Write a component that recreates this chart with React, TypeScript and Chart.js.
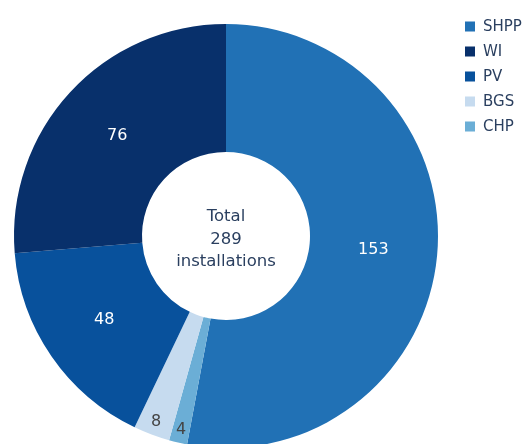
import React, { useEffect, useRef } from "react";
import { Chart, registerables } from "chart.js";

Chart.register(...registerables);

// Slices in drawing order (clockwise from 12 o'clock)
const categories = ["SHPP", "CHP", "BGS", "PV", "WI"];
const values = [153, 4, 8, 48, 76];
const colors = ["#2171b5", "#6baed6", "#c6dbef", "#08519c", "#08306b"];
const labelColors = ["#ffffff", "#444444", "#444444", "#ffffff", "#ffffff"];
// Legend order
const legendOrder = ["SHPP", "WI", "PV", "BGS", "CHP"];
const centerWords = ["Total", "installations"];

const FONT = '"DejaVu Sans", Verdana, sans-serif';
const TEXT = "#2a3f5f";

export default function App() {
  const ref = useRef<HTMLCanvasElement | null>(null);

  useEffect(() => {
    const canvas = ref.current;
    if (!canvas) return;
    const total = values.reduce((a, b) => a + b, 0);

    const sliceLabels = {
      id: "sliceLabels",
      afterDatasetsDraw(chart: any) {
        const ctx = chart.ctx;
        const meta = chart.getDatasetMeta(0);
        ctx.save();
        ctx.font = `16px ${FONT}`;
        ctx.textAlign = "center";
        ctx.textBaseline = "middle";
        meta.data.forEach((arc: any, i: number) => {
          const p = arc.getProps(["x", "y", "startAngle", "endAngle", "innerRadius", "outerRadius"], true);
          const mid = (p.startAngle + p.endAngle) / 2;
          const span = p.endAngle - p.startAngle;
          const r = span < 0.3 ? p.outerRadius - 13 : (p.innerRadius + p.outerRadius) / 2;
          ctx.fillStyle = labelColors[i];
          ctx.fillText(String(chart.data.datasets[0].data[i]), p.x + r * Math.cos(mid), p.y + r * Math.sin(mid));
        });
        // center text
        const a0 = meta.data[0];
        const cx = a0.x, cy = a0.y;
        ctx.fillStyle = TEXT;
        ctx.font = `16.5px ${FONT}`;
        ctx.textBaseline = "alphabetic";
        ctx.fillText(centerWords[0], cx, cy - 15);
        ctx.fillText(String(total), cx, cy + 7.5);
        ctx.fillText(centerWords[1], cx, cy + 30);
        // legend
        ctx.font = `15px ${FONT}`;
        ctx.textAlign = "left";
        ctx.textBaseline = "middle";
        legendOrder.forEach((name, k) => {
          const idx = categories.indexOf(name);
          const y = 26.5 + k * 25;
          ctx.fillStyle = colors[idx];
          ctx.fillRect(465, y - 5, 10, 10);
          ctx.fillStyle = TEXT;
          ctx.fillText(name, 483, y + 0.5);
        });
        ctx.restore();
      },
    };

    const chart = new Chart(canvas, {
      type: "doughnut",
      data: {
        labels: categories,
        datasets: [
          {
            data: values,
            backgroundColor: colors,
            borderWidth: 0,
          },
        ],
      },
      options: {
        animation: false,
        responsive: false,
        maintainAspectRatio: false,
        cutout: 84,
        rotation: 0,
        layout: { padding: { left: 14, right: 93, top: 24, bottom: 12 } },
        plugins: {
          legend: { display: false },
          tooltip: { enabled: false },
        },
      },
      plugins: [sliceLabels],
    });
    return () => chart.destroy();
  }, []);

  return (
    <div
      style={{
        position: "fixed",
        left: 0,
        top: 0,
        width: 531,
        height: 444,
        overflow: "hidden",
        background: "#ffffff",
      }}
    >
      <canvas ref={ref} width={531} height={460} style={{ display: "block", width: 531, height: 460 }} />
    </div>
  );
}
